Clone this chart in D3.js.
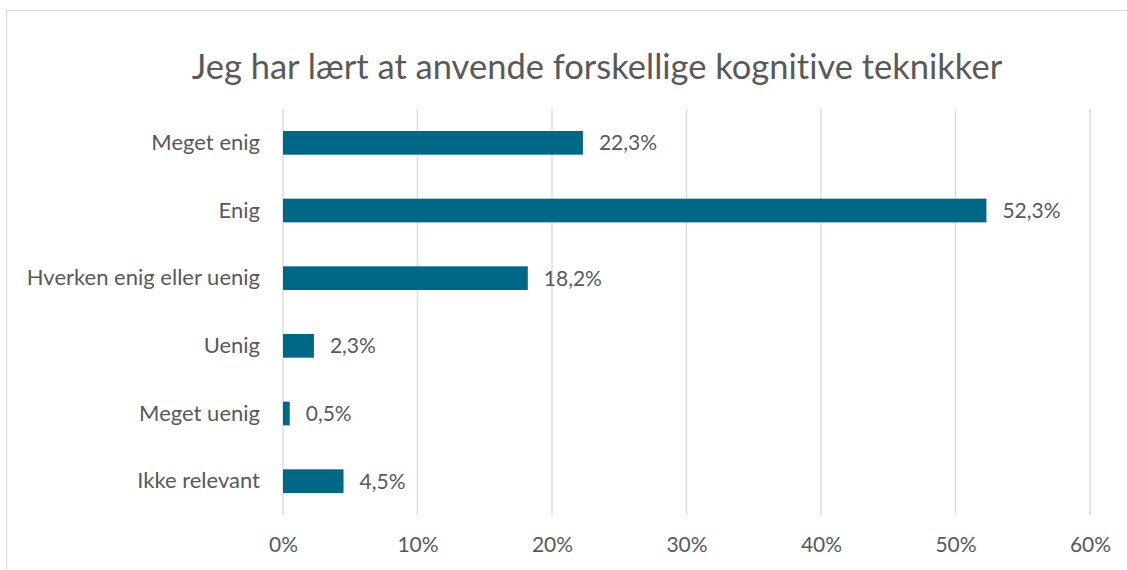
<!DOCTYPE html>
<html>
<head>
<meta charset="utf-8">
<script src="https://cdn.jsdelivr.net/npm/d3@7"></script>
<style>
  body { margin: 0; background: #fff; }
  text { font-family: Lato, "Open Sans", sans-serif; fill: #595959; font-variant-ligatures: none; }
</style>
</head>
<body>
<svg id="chart"></svg>
<script>
// Data
const categories = ["Meget enig", "Enig", "Hverken enig eller uenig", "Uenig", "Meget uenig", "Ikke relevant"];
const values = [22.3, 52.3, 18.2, 2.3, 0.5, 4.5];
const valueLabels = ["22,3%", "52,3%", "18,2%", "2,3%", "0,5%", "4,5%"];
const xTicks = [0, 10, 20, 30, 40, 50, 60];

const width = 1127, height = 570;
const margin = { top: 109, right: 37, bottom: 55, left: 283 };
const innerW = width - margin.left - margin.right;
const innerH = height - margin.top - margin.bottom;

const svg = d3.select("#chart")
    .attr("width", width)
    .attr("height", height);

// chart border
svg.append("rect")
    .attr("x", 6.5).attr("y", 10.5)
    .attr("width", 1130).attr("height", 570)
    .attr("fill", "none")
    .attr("stroke", "#d9d9d9");

svg.append("text")
    .attr("x", 597)
    .attr("y", 79)
    .attr("text-anchor", "middle")
    .style("font-size", "34.5px")
    .text("Jeg har lært at anvende forskellige kognitive teknikker");

const g = svg.append("g")
    .attr("transform", `translate(${margin.left},${margin.top})`);

const x = d3.scaleLinear().domain([0, 60]).range([0, innerW]);
const y = d3.scaleBand().domain(categories).range([0, innerH]).paddingInner(0.65).paddingOuter(0.325);

// gridlines
g.selectAll(".grid")
    .data(xTicks)
    .join("line")
    .attr("class", "grid")
    .attr("x1", d => x(d)).attr("x2", d => x(d))
    .attr("y1", 0).attr("y2", innerH)
    .attr("stroke", "#d9d9d9")
    .attr("stroke-width", 1.3);

// x axis
const xAxis = g.append("g")
    .attr("transform", `translate(0,${innerH})`)
    .call(d3.axisBottom(x).tickValues(xTicks).tickFormat(d => d + "%").tickSize(0).tickPadding(22));
xAxis.select(".domain").remove();
xAxis.selectAll("text").style("font-size", "21px").style("font-family", null);

// y axis labels
const yAxis = g.append("g")
    .call(d3.axisLeft(y).tickSize(0).tickPadding(23));
yAxis.select(".domain").remove();
yAxis.selectAll("text").style("font-size", "22px").style("font-family", null);

// bars
g.selectAll(".bar")
    .data(values)
    .join("rect")
    .attr("class", "bar")
    .attr("x", 0)
    .attr("y", (d, i) => y(categories[i]))
    .attr("width", d => x(d))
    .attr("height", y.bandwidth())
    .attr("fill", "#006887");

// value labels
g.selectAll(".val")
    .data(values)
    .join("text")
    .attr("class", "val")
    .attr("x", d => x(d) + 16)
    .attr("y", (d, i) => y(categories[i]) + y.bandwidth() / 2)
    .attr("dy", "0.35em")
    .style("font-size", "21px")
    .text((d, i) => valueLabels[i]);
</script>
</body>
</html>
